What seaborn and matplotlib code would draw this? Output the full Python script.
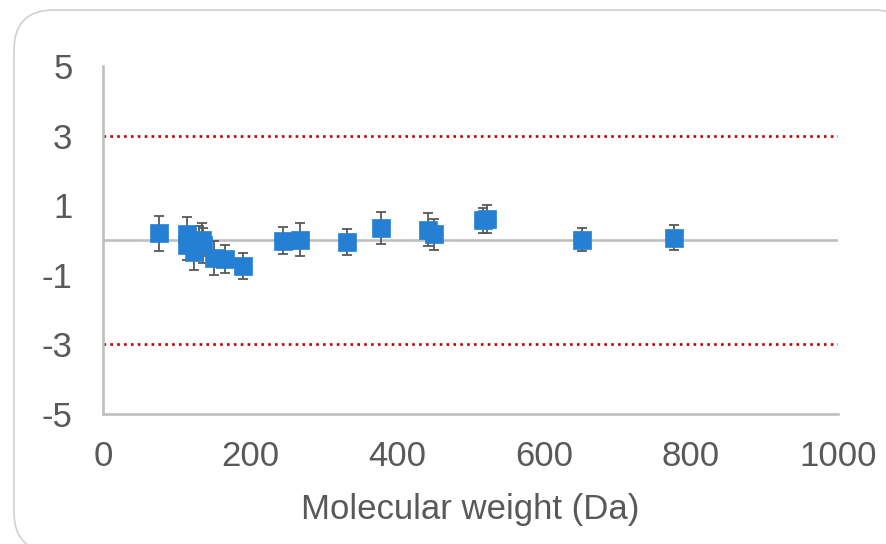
import numpy as np
import pandas as pd
import matplotlib
matplotlib.use("Agg")
import matplotlib.pyplot as plt
import seaborn as sns
from matplotlib.patches import FancyBboxPatch

sns.set_style("white")
plt.rcParams['font.family'] = ['Liberation Sans', 'DejaVu Sans']
plt.rcParams['axes.unicode_minus'] = False

# values
mol_weight = [76.6, 113.8, 114, 124, 130, 134, 136, 151, 166, 191,
              245, 268, 331.5, 377.8, 442, 450, 516.5, 522.5, 651.7, 777]
deviation = [0.19, 0.17, -0.14, -0.34, -0.05, 0.01, -0.15, -0.52, -0.54, -0.74,
             -0.02, 0.01, -0.05, 0.34, 0.30, 0.16, 0.56, 0.60, 0.01, 0.06]
err = [0.5, 0.5, 0.43, 0.52, 0.45, 0.48, 0.5, 0.5, 0.4, 0.38,
       0.39, 0.48, 0.37, 0.46, 0.47, 0.44, 0.36, 0.4, 0.33, 0.36]
limits = [3, -3]
x_ticks = [0, 200, 400, 600, 800, 1000]
y_ticks = [-5, -3, -1, 1, 3, 5]

df = pd.DataFrame({'mw': mol_weight, 'dev': deviation, 'err': err})

fig = plt.figure(figsize=(8.86, 5.44), dpi=100)
ax = fig.add_axes([0.1163, 0.239, 0.8295, 0.6397])

# rounded chart-area border, running off the right/bottom edges
border = FancyBboxPatch((14 / 886, -8 / 544), 900 / 886, 542 / 544,
                        boxstyle="round,pad=0,rounding_size=0.045",
                        transform=fig.transFigure, facecolor='white',
                        edgecolor='#D0D0D0', linewidth=1.2, zorder=-10,
                        mutation_aspect=886 / 544)
fig.patches.append(border)

ax.axhline(0, color='#BFBFBF', lw=1.9, zorder=1)
for lim in limits:
    ax.axhline(lim, color='#C00000', lw=1.9, ls=(0, (1, 1.6)), zorder=1)

ax.errorbar(df['mw'], df['dev'], yerr=df['err'], fmt='none',
            ecolor='#595959', elinewidth=1.3, capsize=3.6, capthick=1.3, zorder=2)
sns.scatterplot(data=df, x='mw', y='dev', marker='s', s=185, color='#2580D3',
                edgecolor='#2580D3', linewidth=0.5, ax=ax, zorder=3)

ax.set_xlim(0, 1000)
ax.set_ylim(-5, 5)
ax.set_xticks(x_ticks)
ax.set_yticks(y_ticks)
ax.tick_params(axis='both', length=0, labelsize=25, colors='#595959')
ax.tick_params(axis='y', pad=22)
ax.tick_params(axis='x', pad=19)
ax.set_xlabel('Molecular weight (Da)', fontsize=25, color='#595959', labelpad=14)
ax.set_ylabel('')

for side in ['top', 'right']:
    ax.spines[side].set_visible(False)
for side in ['left', 'bottom']:
    ax.spines[side].set_color('#BFBFBF')
    ax.spines[side].set_linewidth(1.9)
ax.patch.set_alpha(0)

fig.savefig('out.png', dpi=100)
